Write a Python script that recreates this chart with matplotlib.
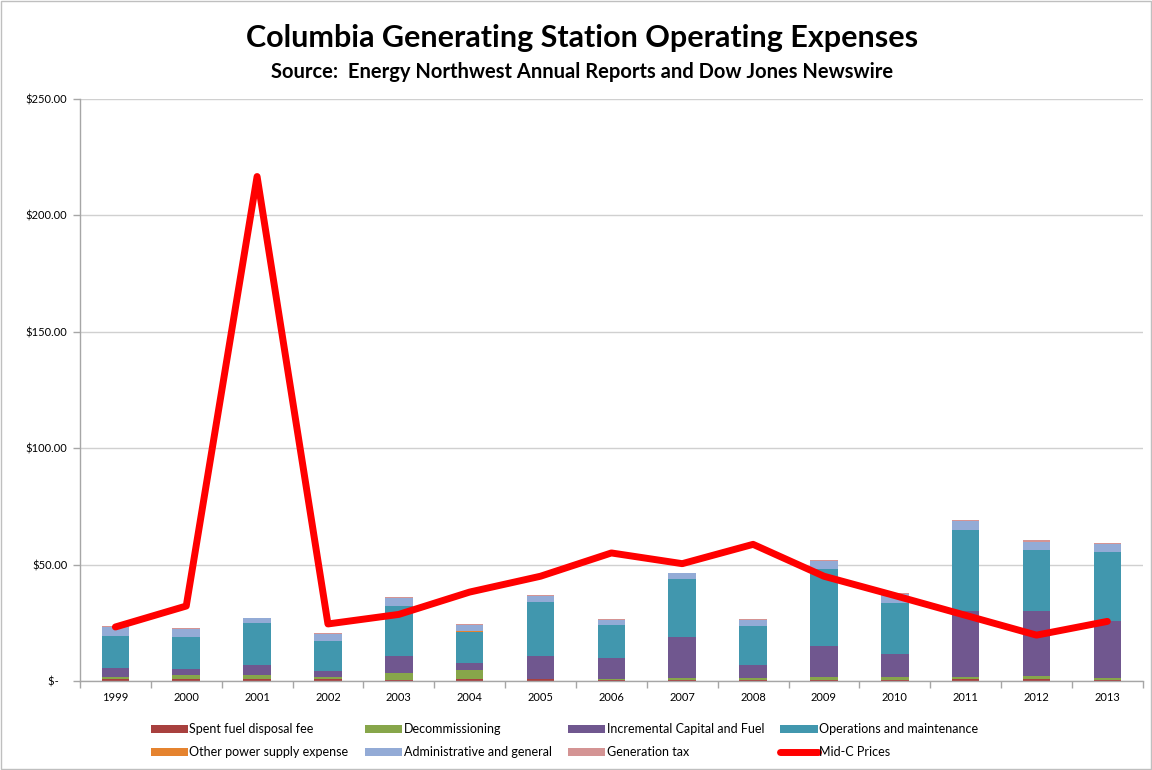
import matplotlib
matplotlib.use("Agg")
from matplotlib import pyplot as plt
from matplotlib.patches import Rectangle
import numpy as np

plt.rcParams['font.family'] = ['Lato', 'DejaVu Sans']

years = ['1999', '2000', '2001', '2002', '2003', '2004', '2005', '2006',
         '2007', '2008', '2009', '2010', '2011', '2012', '2013']

# $/MWh components
spent_fuel = [0.7, 0.7, 0.7, 0.7, 0.6, 0.7, 0.7, 0.6, 0.6, 0.6, 0.6, 0.6, 0.7, 0.7, 0.6]
decommissioning = [1.0, 1.7, 1.7, 1.2, 3.0, 4.2, 0.3, 0.3, 0.7, 0.7, 1.0, 1.1, 1.0, 1.4, 0.7]
incremental = [4.0, 2.9, 4.3, 2.4, 7.1, 2.8, 9.6, 9.1, 17.4, 5.6, 13.6, 9.9, 28.3, 27.9, 24.6]
operations = [13.6, 13.6, 18.2, 12.9, 21.4, 13.5, 23.4, 14.1, 24.9, 16.8, 32.9, 21.7, 34.8, 26.2, 29.3]
other_supply = [0.1, 0.1, 0.1, 0.1, 0.1, 0.1, 0.1, 0.1, 0.1, 0.1, 0.1, 0.1, 0.1, 0.1, 0.1]
admin = [3.9, 3.5, 1.9, 3.0, 3.3, 2.6, 2.4, 1.9, 2.5, 2.4, 3.3, 3.8, 3.8, 3.6, 3.4]
gen_tax = [0.3, 0.4, 0.3, 0.3, 0.5, 0.5, 0.3, 0.4, 0.3, 0.6, 0.4, 0.4, 0.4, 0.5, 0.4]
midc_prices = [23.2, 32.2, 216.7, 24.5, 28.6, 38.2, 45.0, 55.0, 50.4, 58.7, 45.0, 36.7, 28.2, 19.7, 25.6]

series = [
    ('Spent fuel disposal fee', spent_fuel, '#A8403E'),
    ('Decommissioning', decommissioning, '#87A64A'),
    ('Incremental Capital and Fuel', incremental, '#70578F'),
    ('Operations and maintenance', operations, '#4197AE'),
    ('Other power supply expense', other_supply, '#E5832F'),
    ('Administrative and general', admin, '#93ABD6'),
    ('Generation tax', gen_tax, '#D49494'),
]

fig = plt.figure(figsize=(11.52, 7.70), dpi=100)
ax = fig.add_axes([0.0694, 0.1156, 0.9226, 0.7558])

x = np.arange(len(years))
bottom = np.zeros(len(years))
handles = []
for name, vals, color in series:
    vals = np.array(vals)
    b = ax.bar(x, vals, width=0.39, bottom=bottom, color=color,
               linewidth=0, label=name, zorder=2)
    handles.append(b)
    bottom += vals

line, = ax.plot(x, midc_prices, color='#FF0000', linewidth=5,
                solid_joinstyle='round', solid_capstyle='round',
                label='Mid-C Prices', zorder=3)
handles.append(line)

ax.set_xlim(-0.5, len(years) - 0.5)
ax.set_ylim(0, 250)
ax.set_yticks([0, 50, 100, 150, 200, 250])
ax.set_yticklabels(['$-   ' if v == 0 else f'${v:.2f}' for v in [0, 50, 100, 150, 200, 250]],
                   fontsize=8)
ax.set_xticks(x)
ax.set_xticklabels(years, fontsize=8)
ax.set_xticks(np.arange(-0.5, len(years)), minor=True)
ax.tick_params(axis='x', which='major', length=0, pad=8)
ax.tick_params(axis='x', which='minor', length=5, color='#A6A6A6', width=1)
ax.tick_params(axis='y', length=5, color='#A6A6A6', width=1, pad=4)

ax.grid(axis='y', color='#D0D0D0', linewidth=1, zorder=0)
ax.set_axisbelow(True)
for side in ['top', 'right']:
    ax.spines[side].set_visible(False)
for side in ['left', 'bottom']:
    ax.spines[side].set_color('#A6A6A6')
    ax.spines[side].set_linewidth(1)

fig.text(0.505, 0.950, 'Columbia Generating Station Operating Expenses',
         ha='center', va='center', fontsize=22, fontweight='bold')
fig.text(0.505, 0.906, 'Source:  Energy Northwest Annual Reports and Dow Jones Newswire',
         ha='center', va='center', fontsize=14.5, fontweight='bold')

# legend filled row by row like Excel
order = [0, 4, 1, 5, 2, 6, 3, 7]
labels = [h.get_label() for h in handles]
fig.legend([handles[i] for i in order], [labels[i] for i in order],
           ncol=4, loc='center', bbox_to_anchor=(0.49, 0.038), frameon=False,
           fontsize=9, handlelength=3.0, handleheight=0.6, handletextpad=0.1,
           columnspacing=1.3, labelspacing=0.85)

fig.patches.append(Rectangle((0.001, 0.001), 0.998, 0.998, transform=fig.transFigure,
                             fill=False, edgecolor='#BFBFBF', linewidth=1))

fig.savefig('out.png', dpi=100)
